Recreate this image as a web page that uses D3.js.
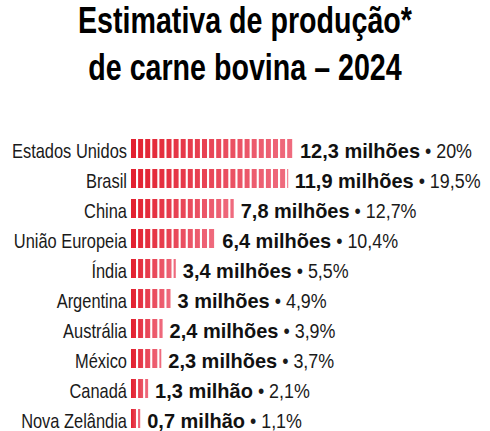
<!DOCTYPE html>
<html><head><meta charset="utf-8">
<script src="https://cdn.jsdelivr.net/npm/d3@7"></script>
<style>
html,body{margin:0;padding:0;background:#fff;}
svg{display:block;}
text{font-family:"Liberation Sans",Arial,sans-serif;}
</style></head>
<body>
<script>
const titleLines = ["Estimativa de produção*", "de carne bovina – 2024"];
const countries = ["Estados Unidos","Brasil","China","União Europeia","Índia","Argentina","Austrália","México","Canadá","Nova Zelândia"];
const values = [12.3, 11.9, 7.8, 6.4, 3.4, 3, 2.4, 2.3, 1.3, 0.7];
const shares = [20, 19.5, 12.7, 10.4, 5.5, 4.9, 3.9, 3.7, 2.1, 1.1];

const W = 490, H = 431;
const svg = d3.select("body").append("svg").attr("width", W).attr("height", H);
const defs = svg.append("defs");

function condense(sel, f){
  sel.each(function(){
    const L = this.getComputedTextLength();
    d3.select(this).attr("textLength", L * f).attr("lengthAdjust", "spacingAndGlyphs");
  });
}
function measure(txt, size, weight){
  const t = svg.append("text").attr("font-size", size).attr("font-weight", weight).text(txt);
  const L = t.node().getComputedTextLength(); t.remove(); return L;
}

// title
const titleF = 334 / measure(titleLines[0], 37, "bold");
svg.selectAll("text.title").data(titleLines).join("text")
  .attr("class","title")
  .attr("x", 245).attr("y", (d,i)=> 32.5 + i*47)
  .attr("text-anchor","middle")
  .attr("font-size", 37).attr("font-weight","bold").attr("fill","#000")
  .text(d=>d)
  .call(condense, titleF);

const x = d3.scaleLinear().domain([0, 12.3]).range([131, 293]);
const y = d3.scalePoint().domain(countries).range([148.5, 418.5]);
const barH = 19, pitch = 7.1, stripeW = 5, base = 9.3;

const fmtNum = v => String(v).replace(".", ",");
const fmtVal = v => fmtNum(v) + (v < 2 ? " milhão" : " milhões");
const fmtPct = v => String(v).replace(".", ",") + "%";

const labF = 115 / measure("Estados Unidos", 21, "normal");
const valF = 120 / measure("12,3 milhões", 21, "bold");
const pctF = 47 / measure("• 20%", 20, "normal");

const rows = svg.selectAll("g.row").data(countries).join("g").attr("class","row");

rows.append("text")
  .attr("x", 127).attr("y", d => y(d) + base)
  .attr("text-anchor","end").attr("font-size", 21).attr("fill","#1a1a1a")
  .text(d=>d)
  .call(condense, labF);

rows.each(function(c, i){
  const g = d3.select(this);
  const v = values[i];
  const x0 = x(0), x1 = x(v);
  const gid = "grad" + i;
  const gr = defs.append("linearGradient").attr("id", gid)
    .attr("gradientUnits","userSpaceOnUse")
    .attr("x1", x0).attr("x2", x1).attr("y1", 0).attr("y2", 0);
  gr.append("stop").attr("offset", 0).attr("stop-color", "#e2202f");
  gr.append("stop").attr("offset", 1).attr("stop-color", "#ef6c7f");
  const starts = d3.range(x0, x1 - 0.5, pitch);
  g.selectAll("rect").data(starts).join("rect")
    .attr("x", s => s).attr("y", y(c) - barH/2)
    .attr("width", s => Math.max(1, Math.min(stripeW, x1 - s)))
    .attr("height", barH)
    .attr("fill", `url(#${gid})`);
  const vt = g.append("text")
    .attr("x", x1 + 7).attr("y", y(c) + base)
    .attr("font-size", 21).attr("font-weight","bold").attr("fill","#111")
    .text(fmtVal(v))
    .call(condense, valF);
  const vw = +vt.attr("textLength");
  g.append("text")
    .attr("x", x1 + 7 + vw + 5).attr("y", y(c) + base)
    .attr("font-size", 20).attr("fill","#1a1a1a")
    .text("• " + fmtPct(shares[i]))
    .call(condense, pctF);
});
</script>
</body></html>
